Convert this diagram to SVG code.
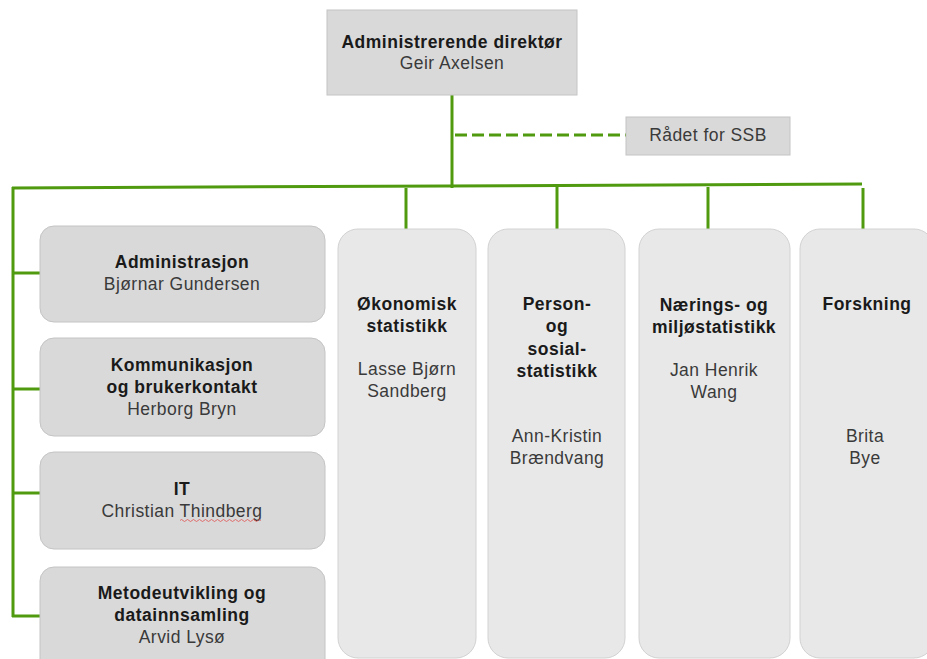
<svg xmlns="http://www.w3.org/2000/svg" width="927" height="659" viewBox="0 0 927 659">
<style>
  .t{font-family:"Liberation Sans",Arial,sans-serif;font-size:17.5px;text-anchor:middle}
  .b{font-weight:bold;fill:#1a1a1a;letter-spacing:0.5px}
  .r{fill:#3a3a3a;letter-spacing:0.45px}
  .box{fill:#d9d9d9;stroke:#c4c4c4;stroke-width:1}
  .col{fill:#e8e8e8;stroke:#d2d2d2;stroke-width:1}
  .ln{stroke:#4f9a0f;stroke-width:3;fill:none}
</style>
<rect width="927" height="659" fill="#ffffff"/>
<g id="connectors">
  <line class="ln" x1="452" y1="95" x2="452" y2="188"/>
  <line class="ln" x1="455" y1="135" x2="626" y2="135" stroke-dasharray="12 5"/>
  <line class="ln" x1="12" y1="188" x2="862" y2="184"/>
  <line class="ln" x1="13" y1="187" x2="13" y2="617"/>
  <line class="ln" x1="12" y1="273" x2="40" y2="273"/>
  <line class="ln" x1="12" y1="389" x2="40" y2="389"/>
  <line class="ln" x1="12" y1="493" x2="40" y2="493"/>
  <line class="ln" x1="12" y1="616" x2="40" y2="616"/>
  <line class="ln" x1="406" y1="188" x2="406" y2="229"/>
  <line class="ln" x1="557" y1="187" x2="557" y2="229"/>
  <line class="ln" x1="708" y1="187" x2="708" y2="229"/>
  <line class="ln" x1="863" y1="188" x2="863" y2="229"/>
</g>
<g id="ceo">
  <rect class="box" x="327" y="10" width="250" height="85"/>
  <text class="t b" x="452" y="48">Administrerende direktør</text>
  <text class="t r" x="452" y="69">Geir Axelsen</text>
</g>
<g id="raadet">
  <rect class="box" x="626" y="117" width="164" height="38"/>
  <text class="t r" x="708" y="141">Rådet for SSB</text>
</g>
<g id="administrasjon">
  <rect class="box" x="40" y="226" width="285" height="96" rx="14"/>
  <text class="t b" x="182" y="268">Administrasjon</text>
  <text class="t r" x="182" y="290">Bjørnar Gundersen</text>
</g>
<g id="kommunikasjon">
  <rect class="box" x="40" y="338" width="285" height="98" rx="14"/>
  <text class="t b" x="182" y="371">Kommunikasjon</text>
  <text class="t b" x="182" y="393">og brukerkontakt</text>
  <text class="t r" x="182" y="415">Herborg Bryn</text>
</g>
<g id="it">
  <rect class="box" x="40" y="452" width="285" height="97" rx="14"/>
  <text class="t b" x="182" y="495">IT</text>
  <text class="t r" x="182" y="517">Christian Thindberg</text>
  <path d="M180 520.5 q1.5 -2 3 0 t3 0 t3 0 t3 0 t3 0 t3 0 t3 0 t3 0 t3 0 t3 0 t3 0 t3 0 t3 0 t3 0 t3 0 t3 0 t3 0 t3 0 t3 0 t3 0 t3 0 t3 0 t3 0 t3 0 t3 0 t3 0 t3 0" fill="none" stroke="#e05050" stroke-width="0.8"/>
</g>
<g id="metode">
  <rect class="box" x="40" y="567" width="285" height="110" rx="14"/>
  <text class="t b" x="182" y="599">Metodeutvikling og</text>
  <text class="t b" x="182" y="621">datainnsamling</text>
  <text class="t r" x="182" y="643">Arvid Lysø</text>
</g>
<g id="okonomisk">
  <rect class="col" x="338" y="229" width="138" height="429" rx="20"/>
  <text class="t b" x="407" y="310">Økonomisk</text>
  <text class="t b" x="407" y="332">statistikk</text>
  <text class="t r" x="407" y="375">Lasse Bjørn</text>
  <text class="t r" x="407" y="397">Sandberg</text>
</g>
<g id="person">
  <rect class="col" x="488" y="229" width="137" height="429" rx="20"/>
  <text class="t b" x="557" y="310">Person-</text>
  <text class="t b" x="557" y="332">og</text>
  <text class="t b" x="557" y="355">sosial-</text>
  <text class="t b" x="557" y="377">statistikk</text>
  <text class="t r" x="557" y="442">Ann-Kristin</text>
  <text class="t r" x="557" y="464">Brændvang</text>
</g>
<g id="naering">
  <rect class="col" x="639" y="229" width="151" height="429" rx="20"/>
  <text class="t b" x="714" y="311">Nærings- og</text>
  <text class="t b" x="714" y="333">miljøstatistikk</text>
  <text class="t r" x="714" y="376">Jan Henrik</text>
  <text class="t r" x="714" y="398">Wang</text>
</g>
<g id="forskning">
  <rect class="col" x="800" y="229" width="134" height="429" rx="20"/>
  <text class="t b" x="867" y="310">Forskning</text>
  <text class="t r" x="865" y="442">Brita</text>
  <text class="t r" x="865" y="464">Bye</text>
</g>
</svg>
